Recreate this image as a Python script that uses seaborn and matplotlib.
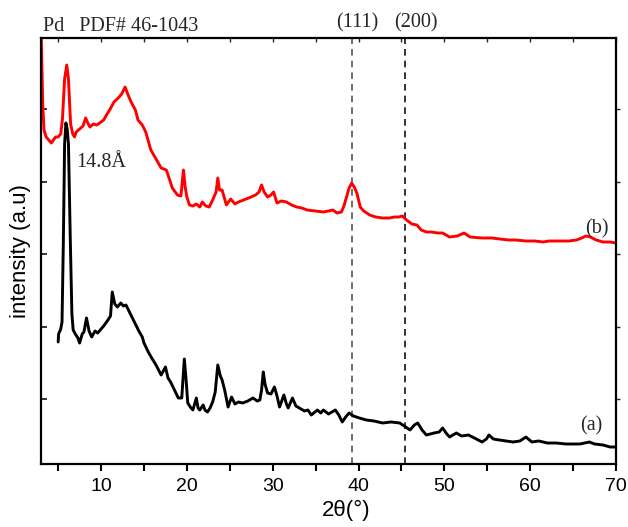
import matplotlib
matplotlib.use("Agg")
import matplotlib.pyplot as plt
import seaborn as sns
import pandas as pd

# XRD pattern (a): 2theta (deg) and intensity (a.u.)
two_theta_a = [5.0, 5.05, 5.3, 5.45, 5.6, 5.75, 5.9, 6.05, 6.2, 6.4, 6.6, 6.75, 7.0, 7.3, 7.5,
               7.8, 8.0, 8.3, 8.6, 8.9, 9.3, 9.6, 9.9, 10.3, 10.8, 11.1, 11.3, 11.6, 11.9, 12.3,
               12.6, 12.9, 13.3, 13.6, 14.0, 14.4, 14.8, 15.0, 15.5, 15.9, 16.4, 17.0, 17.5, 17.8,
               18.1, 18.6, 19.0, 19.4, 19.7, 19.9, 20.1, 20.4, 20.7, 21.1, 21.3, 21.5, 21.9, 22.1,
               22.4, 22.7, 23.0, 23.3, 23.6, 23.9, 24.1, 24.4, 24.8, 25.2, 25.6, 26.0, 26.5, 27.1,
               27.7, 28.2, 28.5, 28.7, 28.9, 29.1, 29.4, 29.8, 30.2, 30.5, 30.8, 31.3, 31.6, 31.8,
               32.3, 32.7, 33.1, 33.7, 34.1, 34.5, 35.2, 35.6, 35.9, 36.5, 37.3, 37.7, 38.1, 38.5,
               38.9, 39.4, 40.1, 40.9, 41.8, 42.8, 43.8, 44.8, 45.5, 46.0, 46.5, 46.9, 47.4, 47.9,
               48.8, 49.4, 49.8, 50.2, 50.6, 51.4, 52.0, 52.8, 53.5, 54.4, 54.9, 55.2, 55.7, 56.4,
               57.2, 58.0, 58.8, 59.5, 60.2, 61.0, 62.0, 63.0, 64.2, 65.0, 65.8, 66.9, 67.5, 68.5,
               69.3, 70.0]
intensity_a = [122, 130, 135, 142, 220, 320, 341, 335, 320, 230, 150, 134, 130, 126, 121,
               130, 132, 146, 133, 127, 133, 131, 134, 138, 144, 148, 172, 160, 157, 161,
               158, 159, 152, 147, 140, 133, 127, 121, 112, 106, 99, 89, 97, 86,
               82, 73, 66, 66, 105, 85, 61, 57, 54, 66, 56, 54, 59, 54,
               52, 56, 62, 72, 99, 88, 84, 74, 57, 67, 60, 62, 61, 63,
               66, 63, 64, 74, 92, 80, 71, 70, 77, 68, 57, 69, 60, 56,
               66, 58, 56, 53, 54, 49, 54, 51, 54, 50, 54, 49, 42, 47,
               51, 48, 46, 44, 43, 41, 42, 41, 37, 34, 39, 41, 34, 29,
               31, 32, 36, 31, 27, 31, 28, 29, 26, 22, 25, 29, 25, 24,
               23, 22, 23, 27, 22, 23, 21, 21, 20, 20, 20, 22, 20, 19,
               17, 17]

# XRD pattern (b)
two_theta_b = [3.0, 3.2, 3.35, 3.6, 4.2, 4.7, 5.0, 5.3, 5.5, 5.75, 6.0, 6.2, 6.45, 6.7, 6.9,
               7.1, 7.5, 7.9, 8.2, 8.4, 8.7, 9.1, 9.5, 10.0, 10.3, 10.7, 11.0, 11.5, 12.0, 12.4,
               12.8, 13.1, 13.5, 14.0, 14.3, 14.8, 15.2, 15.8, 16.2, 16.6, 17.0, 17.6, 18.0, 18.3,
               18.9, 19.3, 19.6, 19.8, 20.0, 20.3, 20.7, 21.1, 21.5, 21.8, 22.2, 22.6, 23.0, 23.4,
               23.6, 23.8, 24.1, 24.3, 24.6, 25.1, 25.6, 26.0, 26.6, 27.2, 28.0, 28.4, 28.7, 29.0,
               29.4, 29.8, 30.1, 30.5, 31.0, 31.6, 32.2, 32.8, 33.4, 34.0, 35.0, 35.9, 36.5, 37.0,
               37.5, 38.0, 38.3, 38.6, 38.9, 39.2, 39.5, 39.8, 40.2, 40.6, 41.3, 42.0, 42.8, 43.6,
               44.2, 44.7, 45.1, 45.6, 46.2, 46.8, 47.3, 47.9, 48.5, 49.2, 49.8, 50.6, 51.5, 52.3,
               53.0, 54.4, 55.5, 56.5, 57.5, 58.3, 59.5, 60.5, 61.5, 62.2, 63.5, 64.5, 65.4, 66.0,
               66.5, 67.0, 67.7, 68.5, 69.3, 70.0]
intensity_b = [440, 360, 334, 327, 321, 327, 327, 330, 345, 385, 399, 385, 340, 330, 327,
               332, 335, 338, 346, 342, 337, 340, 339, 342, 344, 350, 354, 362, 366, 370,
               377, 370, 362, 354, 344, 339, 332, 314, 308, 302, 296, 294, 284, 276,
               269, 268, 294, 277, 267, 259, 258, 260, 257, 262, 258, 257, 264, 272,
               286, 274, 274, 268, 259, 265, 260, 262, 264, 266, 269, 272, 279, 272,
               267, 269, 272, 261, 263, 262, 259, 257, 256, 254, 253, 252, 253, 254,
               251, 252, 258, 267, 276, 281, 277, 271, 257, 253, 249, 247, 246, 246,
               247, 247, 248, 244, 240, 239, 234, 232, 232, 231, 231, 227, 228, 231,
               227, 226, 226, 225, 224, 224, 223, 223, 222, 223, 223, 223, 224, 226,
               228, 227, 224, 222, 222, 221]

# Pd reference reflections (PDF# 46-1043)
pd_positions = [39.2, 45.4]
pd_labels = ["(111)", "(200)"]
pd_colors = ["#555555", "#111111"]

sns.set_theme(style="ticks")
plt.rcParams["font.family"] = ["Liberation Sans", "DejaVu Sans"]

df_a = pd.DataFrame({"two_theta": two_theta_a, "intensity": intensity_a})
df_b = pd.DataFrame({"two_theta": two_theta_b, "intensity": intensity_b})

fig = plt.figure(figsize=(6.28, 5.27), dpi=100)
ax = fig.add_axes([41 / 628, 1 - 464 / 527, 575 / 628, 426 / 527])

sns.lineplot(data=df_b, x="two_theta", y="intensity", color="#ff0000", lw=2.1,
             estimator=None, sort=False, ax=ax)
sns.lineplot(data=df_a, x="two_theta", y="intensity", color="#000000", lw=2.1,
             estimator=None, sort=False, ax=ax)

for pos, col in zip(pd_positions, pd_colors):
    ax.axvline(pos, color=col, lw=1.2, ls=(0, (4, 3)), zorder=1)

ax.set_xlim(3, 70)
ax.set_ylim(0, 426)
major_x = list(range(10, 71, 10))
minor_x = list(range(5, 71, 5))
y_ticks = [65 + 72.5 * k for k in range(5)]
ax.set_xticks(major_x)
ax.set_xticks(minor_x, minor=True)
ax.set_yticks(y_ticks)
ax.set_yticklabels([])

for s in ax.spines.values():
    s.set_linewidth(1.6)
    s.set_color("black")

ax.tick_params(axis="x", which="both", direction="out", length=5, width=1.5,
               labelsize=14, colors="black", pad=5)
ax.tick_params(axis="y", which="both", direction="in", length=4, width=1.3)

# small inward ticks along the top edge, small outward ones on the right
top = ax.secondary_xaxis("top")
top.set_xticks(minor_x)
top.set_xticklabels([])
top.tick_params(direction="in", length=3, width=1.0)
right = ax.secondary_yaxis("right")
right.set_yticks(y_ticks)
right.set_yticklabels([])
right.tick_params(direction="out", length=3, width=1.0)

ax.set_xlabel("2θ(°)", fontsize=16, color="black")
ax.xaxis.set_label_coords(0.53, -0.085)
ax.set_ylabel("intensity (a.u)", fontsize=16, color="black", labelpad=4)

serif = ["Liberation Serif", "DejaVu Serif"]
fig.text(43 / 628, 1 - 31 / 527, "Pd   PDF# 46-1043", family=serif, fontsize=14.5,
         ha="left", va="baseline")
for pos, lab, dx in zip(pd_positions, pd_labels, [0.6, 1.3]):
    ax.text(pos + dx, 1.012, lab, transform=ax.get_xaxis_transform(), family=serif,
            fontsize=14.5, ha="center", va="bottom")

ax.text(7.1, 297, "14.8Å", family=serif, fontsize=14.5, ha="left", va="baseline")
ax.text(67.8, 231, "(b)", family=serif, fontsize=14.5, ha="center", va="baseline")
ax.text(67.1, 34, "(a)", family=serif, fontsize=14.5, ha="center", va="baseline")

fig.savefig("out.png", dpi=100)
